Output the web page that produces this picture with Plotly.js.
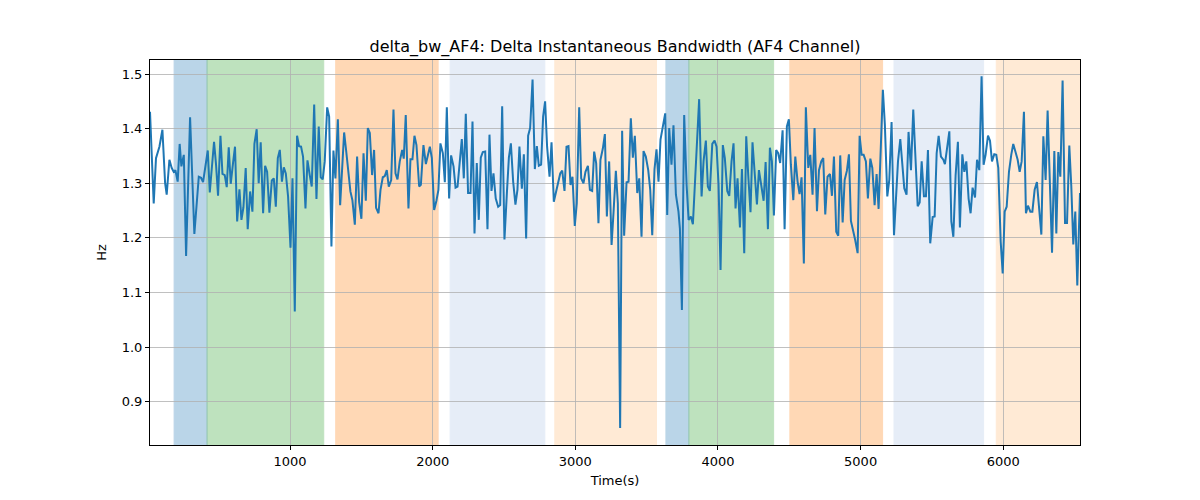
<!DOCTYPE html>
<html>
<head>
<meta charset="utf-8">
<script src="https://cdn.plot.ly/plotly-3.0.1.min.js"></script>
<style>html,body{margin:0;padding:0;background:#fff;}#chart{width:1200px;height:500px;}</style>
</head>
<body>
<div id="chart"></div>
<script>
// ---- data ----
const timeS = [18,44,60,84,105,124,135,154,170,184,196,212,226,238,255,271,299,329,360,376,390,404,423,437,453,467,481,495,512,526,542,556,570,584,600,614,629,645,659,673,689,703,720,736,750,766,780,794,811,825,839,855,872,886,900,914,928,943,956,970,986,1003,1017,1033,1049,1063,1077,1091,1108,1122,1138,1152,1169,1185,1201,1215,1229,1243,1260,1274,1290,1304,1318,1335,1351,1365,1379,1393,1407,1423,1437,1454,1470,1484,1500,1515,1531,1545,1559,1575,1589,1603,1620,1634,1650,1664,1678,1692,1709,1725,1739,1753,1769,1786,1797,1811,1830,1844,1858,1872,1886,1905,1917,1935,1952,1966,1980,1994,2010,2026,2040,2054,2071,2085,2099,2115,2129,2146,2160,2174,2190,2204,2218,2232,2248,2265,2279,2293,2309,2323,2337,2351,2368,2384,2398,2412,2426,2442,2459,2473,2487,2503,2520,2534,2548,2564,2580,2594,2608,2625,2639,2655,2669,2683,2700,2716,2730,2744,2760,2774,2788,2802,2819,2833,2849,2863,2880,2894,2908,2924,2938,2952,2966,2980,2996,3010,3027,3041,3057,3071,3088,3102,3118,3132,3146,3162,3176,3193,3207,3221,3237,3254,3268,3284,3298,3314,3328,3342,3359,3373,3389,3403,3417,3434,3448,3464,3478,3494,3511,3525,3539,3555,3569,3583,3597,3614,3630,3644,3658,3674,3688,3705,3723,3733,3747,3763,3780,3794,3810,3824,3840,3854,3868,3885,3899,3915,3929,3943,3960,3976,3990,4004,4018,4034,4048,4065,4079,4095,4109,4123,4137,4154,4168,4184,4198,4212,4228,4242,4259,4273,4287,4303,4320,4334,4350,4364,4378,4392,4408,4422,4436,4453,4467,4483,4497,4511,4528,4542,4558,4572,4586,4602,4616,4633,4647,4663,4677,4694,4708,4724,4738,4752,4768,4785,4799,4813,4829,4843,4857,4874,4888,4904,4918,4932,4948,4962,4979,4993,5007,5021,5037,5051,5068,5082,5098,5112,5126,5140,5156,5170,5187,5201,5217,5234,5248,5262,5278,5292,5306,5322,5336,5353,5369,5383,5400,5414,5428,5444,5458,5472,5488,5505,5519,5533,5547,5563,5580,5591,5605,5622,5636,5650,5666,5682,5696,5713,5727,5741,5757,5771,5785,5802,5816,5832,5848,5862,5876,5893,5907,5921,5937,5951,5965,5982,5996,6010,6024,6040,6056,6070,6084,6101,6115,6129,6145,6159,6173,6190,6204,6220,6236,6250,6267,6281,6297,6311,6328,6342,6358,6372,6386,6400,6416,6433,6447,6463,6477,6491,6505,6519,6538];
const deltaBwHz = [1.431,1.263,1.346,1.367,1.398,1.300,1.279,1.343,1.328,1.321,1.324,1.303,1.372,1.331,1.352,1.167,1.421,1.207,1.312,1.310,1.302,1.331,1.360,1.283,1.343,1.376,1.334,1.277,1.387,1.317,1.315,1.293,1.366,1.299,1.337,1.367,1.230,1.289,1.233,1.256,1.328,1.216,1.285,1.248,1.372,1.399,1.300,1.375,1.245,1.332,1.321,1.246,1.305,1.309,1.257,1.346,1.361,1.303,1.329,1.318,1.276,1.182,1.309,1.065,1.387,1.368,1.367,1.349,1.254,1.342,1.315,1.294,1.444,1.271,1.404,1.311,1.307,1.340,1.439,1.422,1.184,1.360,1.309,1.417,1.260,1.330,1.393,1.360,1.318,1.285,1.269,1.224,1.349,1.266,1.235,1.355,1.268,1.401,1.392,1.315,1.361,1.255,1.245,1.288,1.311,1.313,1.324,1.294,1.306,1.435,1.318,1.307,1.340,1.361,1.345,1.425,1.254,1.344,1.344,1.387,1.370,1.294,1.297,1.370,1.335,1.349,1.367,1.346,1.251,1.268,1.288,1.373,1.355,1.302,1.439,1.272,1.351,1.331,1.292,1.294,1.334,1.381,1.309,1.427,1.282,1.282,1.413,1.208,1.337,1.233,1.347,1.357,1.358,1.216,1.389,1.286,1.318,1.272,1.257,1.260,1.441,1.197,1.282,1.347,1.373,1.303,1.261,1.288,1.367,1.290,1.353,1.199,1.387,1.401,1.490,1.326,1.368,1.332,1.334,1.422,1.450,1.367,1.312,1.375,1.266,1.282,1.303,1.318,1.323,1.286,1.367,1.368,1.297,1.312,1.222,1.263,1.439,1.309,1.300,1.321,1.332,1.288,1.286,1.358,1.337,1.227,1.343,1.364,1.390,1.239,1.340,1.187,1.248,1.323,1.263,0.852,1.396,1.204,1.302,1.303,1.419,1.347,1.387,1.282,1.309,1.202,1.359,1.349,1.324,1.288,1.205,1.326,1.362,1.303,1.380,1.404,1.428,1.242,1.401,1.334,1.406,1.279,1.248,1.217,1.068,1.425,1.297,1.233,1.239,1.225,1.300,1.370,1.454,1.276,1.341,1.378,1.294,1.286,1.372,1.378,1.367,1.297,1.141,1.370,1.346,1.286,1.277,1.340,1.373,1.254,1.309,1.219,1.326,1.172,1.386,1.315,1.247,1.375,1.306,1.261,1.324,1.294,1.268,1.339,1.216,1.365,1.340,1.241,1.361,1.355,1.337,1.397,1.216,1.404,1.417,1.334,1.269,1.349,1.303,1.280,1.311,1.153,1.439,1.328,1.352,1.279,1.401,1.249,1.324,1.340,1.346,1.243,1.312,1.317,1.277,1.349,1.211,1.204,1.351,1.228,1.306,1.323,1.353,1.231,1.214,1.196,1.172,1.387,1.352,1.352,1.340,1.272,1.345,1.328,1.260,1.317,1.253,1.367,1.471,1.407,1.276,1.306,1.412,1.205,1.285,1.340,1.381,1.340,1.291,1.279,1.394,1.324,1.435,1.355,1.258,1.265,1.340,1.276,1.276,1.361,1.190,1.238,1.239,1.355,1.387,1.349,1.343,1.335,1.361,1.395,1.230,1.202,1.315,1.376,1.219,1.353,1.321,1.340,1.272,1.245,1.292,1.274,1.343,1.324,1.496,1.334,1.352,1.387,1.378,1.340,1.353,1.352,1.328,1.193,1.135,1.248,1.257,1.321,1.352,1.372,1.359,1.343,1.321,1.340,1.431,1.245,1.259,1.248,1.248,1.288,1.302,1.254,1.206,1.386,1.306,1.433,1.266,1.173,1.359,1.208,1.357,1.312,1.488,1.227,1.227,1.369,1.294,1.188,1.248,1.113,1.282];

// shaded segments (start, end in seconds, kind)
const segStart = [187, 418, 1320, 2122, 2856, 3635, 3796, 4504, 5234, 5951];
const segEnd   = [418, 1236, 2038, 2786, 3569, 3796, 4390, 5154, 5862, 6538];
const segKind  = ['A','B','C','D','E','A','B','C','D','E'];

const xTicks = [1000, 2000, 3000, 4000, 5000, 6000];
const yTicks = [0.9, 1.0, 1.1, 1.2, 1.3, 1.4, 1.5];

// ---- styles ----
const kindColor = {A:'#1f77b4', B:'#2ca02c', C:'#ff7f0e', D:'#aec7e8', E:'#ffbb78'};
const FONT = 'DejaVu Sans, Liberation Sans, sans-serif';

const shapes = segStart.map((s, i) => ({
  type: 'rect', xref: 'x', yref: 'paper',
  x0: s, x1: segEnd[i], y0: 0, y1: 1,
  fillcolor: kindColor[segKind[i]], opacity: 0.3,
  line: {color: kindColor[segKind[i]], width: 1},
  layer: 'below'
}));

const trace = {
  x: timeS, y: deltaBwHz, type: 'scatter', mode: 'lines',
  line: {color: '#1f77b4', width: 2}, hoverinfo: 'skip'
};

const axisCommon = {
  showgrid: true, gridcolor: '#b0b0b0', gridwidth: 0.8,
  showline: true, linecolor: '#000', linewidth: 1, mirror: true,
  ticks: 'outside', ticklen: 4, tickwidth: 1, tickcolor: '#000',
  zeroline: false,
  tickfont: {family: FONT, size: 13, color: '#000'}
};

const layout = {
  width: 1200, height: 500,
  margin: {l: 150, r: 120, t: 60, b: 55},
  paper_bgcolor: '#fff', plot_bgcolor: '#fff',
  showlegend: false,
  title: {text: 'delta_bw_AF4: Delta Instantaneous Bandwidth (AF4 Channel)',
          font: {family: FONT, size: 16, color: '#000'},
          x: 0.5, xref: 'paper', xanchor: 'center',
          y: 0.908, yref: 'container', yanchor: 'middle'},
  xaxis: Object.assign({}, axisCommon, {
    range: [18, 6538], tickvals: xTicks, tickformat: 'd',
    title: {text: 'Time(s)', font: {family: FONT, size: 13, color: '#000'}, standoff: 8}
  }),
  yaxis: Object.assign({}, axisCommon, {
    range: [0.8207, 1.5257], tickvals: yTicks, tickformat: '.1f',
    title: {text: 'Hz', font: {family: FONT, size: 13, color: '#000'}, standoff: 12}
  }),
  shapes: shapes
};

Plotly.newPlot('chart', [trace], layout, {displayModeBar: false, staticPlot: true});
</script>
</body>
</html>
